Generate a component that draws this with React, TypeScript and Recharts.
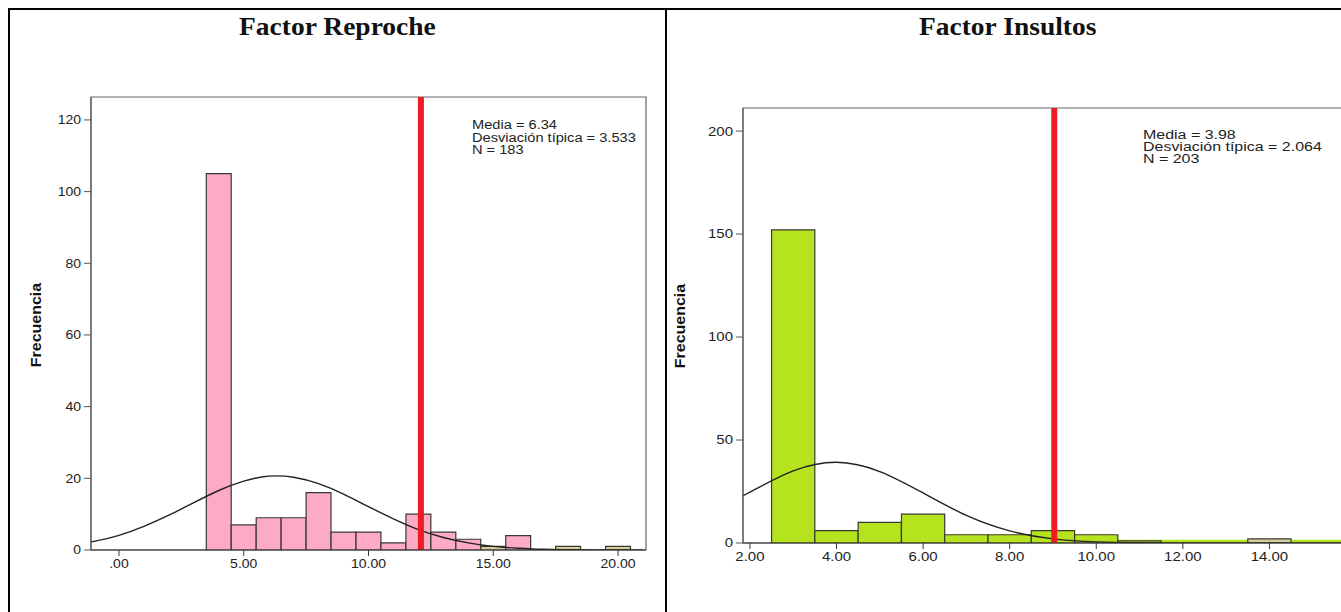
import React from 'react';
import { ComposedChart, Bar, Line, XAxis, YAxis, ReferenceLine, ReferenceArea, Cell } from 'recharts';

// Factor Reproche: bin centres, counts per bin, fitted normal curve
const reprocheX = [-2, -1, 0, 1, 2, 3, 4, 5, 6, 7, 8, 9, 10, 11, 12, 13, 14, 15, 16, 17, 18, 19, 20, 21];
const reprocheCounts = [null, null, null, null, null, null, 105, 7, 9, 9, 16, 5, 5, 2, 10, 5, 3, 1, 4, null, 1, null, 1, null];
const reprocheCurve = [1.3, 2.4, 4.1, 6.6, 9.7, 13.2, 16.6, 19.2, 20.6, 20.3, 18.5, 15.6, 12.1, 8.7, 5.7, 3.5, 2.0, 1.0, 0.5, 0.2, 0.1, 0.03, 0.01, 0];
const reprocheTanBins = [15, 18, 20];
const reprocheXTicks = [0, 5, 10, 15, 20];
const reprocheYTicks = [0, 20, 40, 60, 80, 100, 120];
const reprocheStats = ['Media = 6.34', 'Desviación típica = 3.533', 'N = 183'];
const reprocheCut = 12.1;

// Factor Insultos
const insultosX = [1, 2, 3, 4, 5, 6, 7, 8, 9, 10, 11, 12, 13, 14, 15, 16, 17];
const insultosCounts = [null, null, 152, 6, 10, 14, 4, 4, 6, 4, 1, null, null, 2, null, null, null];
const insultosCurve = [13.8, 24.7, 35.0, 39.2, 34.7, 24.3, 13.4, 5.9, 2.0, 0.56, 0.12, 0.02, 0, 0, 0, 0, 0];
const insultosTanBins = [14];
const insultosXTicks = [2, 4, 6, 8, 10, 12, 14];
const insultosYTicks = [0, 50, 100, 150, 200];
const insultosStats = ['Media = 3.98', 'Desviación típica = 2.064', 'N = 203'];
const insultosCut = 9.03;

const PINK = '#fcaac6';
const TAN = '#d6cf9c';
const GREEN = '#b5e41f';
const RED = '#ed1c24';
const SANS = '"Liberation Sans", Arial, sans-serif';

const StretchTick = (props: any) => {
  const { x, y, payload, textAnchor, fmt, vertical, sx } = props;
  return (
    <g transform={`translate(${x},${y})`}>
      <text
        transform={`scale(${sx},1)`}
        textAnchor={textAnchor}
        dy={vertical ? '0.355em' : '0.71em'}
        fontFamily={SANS}
        fontSize={12.5}
        fill="#222"
      >
        {fmt(payload.value)}
      </text>
    </g>
  );
};

type HistProps = {
  xs: number[];
  counts: (number | null)[];
  curve: number[];
  tanBins: number[];
  fill: string;
  xDomain: [number, number];
  yMax: number;
  xTicks: number[];
  yTicks: number[];
  cut: number;
  width: number;
  height: number;
  margin: { top: number; right: number; bottom: number; left: number };
  fmt: (v: number) => string;
  tickStretch: number;
  greenBase?: boolean;
};

const Histogram: React.FC<HistProps> = (p) => {
  const data = p.xs.map((x, i) => ({ x, count: p.counts[i], curve: p.curve[i] }));
  const yAxisWidth = 40;
  const plotWidth = p.width - p.margin.left - p.margin.right - yAxisWidth;
  const unit = plotWidth / (p.xDomain[1] - p.xDomain[0]);

  return (
    <ComposedChart width={p.width} height={p.height} data={data} margin={p.margin} barGap={0} barCategoryGap={0}>
      <XAxis
        dataKey="x"
        type="number"
        domain={p.xDomain}
        allowDataOverflow
        ticks={p.xTicks}
        stroke="#333"
        tickSize={6}
        tickMargin={3}
        height={30}
        tick={(t: any) => <StretchTick {...t} fmt={p.fmt} sx={p.tickStretch} />}
      />
      <YAxis
        type="number"
        domain={[0, p.yMax]}
        allowDataOverflow
        ticks={p.yTicks}
        width={yAxisWidth}
        stroke="#555"
        tickSize={7}
        tickMargin={3}
        tick={(t: any) => <StretchTick {...t} fmt={(v: number) => String(v)} sx={p.tickStretch} vertical />}
      />
      <ReferenceArea x1={p.xDomain[0]} x2={p.xDomain[1]} y1={0} y2={p.yMax} fill="none" stroke="#666" strokeWidth={1.2} />
      <Bar dataKey="count" barSize={unit - 0.05} stroke="#3a3a30" strokeWidth={1.2} isAnimationActive={false}>
        {data.map((d) => (
          <Cell key={d.x} fill={p.tanBins.includes(d.x) ? TAN : p.fill} />
        ))}
      </Bar>
      {p.greenBase && (
        <ReferenceArea x1={2.5} x2={p.xDomain[1]} y1={0} y2={1.6} fill={GREEN} fillOpacity={1} stroke="none" ifOverflow="visible" />
      )}
      <Line dataKey="curve" type="natural" stroke="#222" strokeWidth={1.4} dot={false} isAnimationActive={false} />
      <ReferenceLine x={p.cut} stroke={RED} strokeWidth={6} />
    </ComposedChart>
  );
};

const titleStyle: React.CSSProperties = {
  position: 'absolute',
  top: 13,
  textAlign: 'center',
  fontFamily: '"Liberation Serif", "Times New Roman", serif',
  fontWeight: 'bold',
  fontSize: 25,
  color: '#111',
};

const statsStyle: React.CSSProperties = {
  position: 'absolute',
  fontFamily: SANS,
  color: '#222',
  whiteSpace: 'nowrap',
  transformOrigin: 'left top',
};

const yLabelStyle: React.CSSProperties = {
  position: 'absolute',
  fontFamily: SANS,
  fontWeight: 'bold',
  fontSize: 14,
  color: '#111',
  transform: 'translate(-50%, -50%) rotate(-90deg) scaleX(1.14)',
  whiteSpace: 'nowrap',
};

const App: React.FC = () => {
  return (
    <div style={{ position: 'fixed', left: 0, top: 0, width: 1341, height: 612, overflow: 'hidden', background: '#fff' }}>
      <div style={{ position: 'absolute', left: 0, top: 0 }}>
        <Histogram
          xs={reprocheX}
          counts={reprocheCounts}
          curve={reprocheCurve}
          tanBins={reprocheTanBins}
          fill={PINK}
          xDomain={[-1.12, 21.12]}
          yMax={126.4}
          xTicks={reprocheXTicks}
          yTicks={reprocheYTicks}
          cut={reprocheCut}
          width={666}
          height={612}
          margin={{ top: 97, right: 20, bottom: 32, left: 51 }}
          fmt={(v) => (v === 0 ? '.00' : v.toFixed(2))}
          tickStretch={1.12}
        />
      </div>
      <div style={{ position: 'absolute', left: 666, top: 0 }}>
        <Histogram
          xs={insultosX}
          counts={insultosCounts}
          curve={insultosCurve}
          tanBins={insultosTanBins}
          fill={GREEN}
          xDomain={[1.84, 16.3]}
          yMax={211.2}
          xTicks={insultosXTicks}
          yTicks={insultosYTicks}
          cut={insultosCut}
          width={723}
          height={612}
          margin={{ top: 108, right: 20, bottom: 39, left: 37 }}
          fmt={(v) => v.toFixed(2)}
          tickStretch={1.2}
          greenBase
        />
      </div>

      <div style={{ ...titleStyle, left: 8, width: 658 }}>
        <span style={{ display: 'inline-block', transform: 'scaleX(1.1)' }}>Factor Reproche</span>
      </div>
      <div style={{ ...titleStyle, left: 666, width: 684 }}>
        <span style={{ display: 'inline-block', transform: 'scaleX(1.1)' }}>Factor Insultos</span>
      </div>

      <div style={{ ...statsStyle, left: 472, top: 119, fontSize: 12.5, lineHeight: '12.5px', transform: 'scaleX(1.17)' }}>
        {reprocheStats.map((s) => (
          <div key={s}>{s}</div>
        ))}
      </div>
      <div style={{ ...statsStyle, left: 1143, top: 129, fontSize: 12, lineHeight: '12px', transform: 'scaleX(1.33)' }}>
        {insultosStats.map((s) => (
          <div key={s}>{s}</div>
        ))}
      </div>

      <div style={{ ...yLabelStyle, left: 36, top: 325 }}>Frecuencia</div>
      <div style={{ ...yLabelStyle, left: 680, top: 326 }}>Frecuencia</div>

      {/* table borders */}
      <div style={{ position: 'absolute', left: 8, top: 8, width: 1333, height: 2, background: '#000' }} />
      <div style={{ position: 'absolute', left: 8, top: 8, width: 2, height: 604, background: '#000' }} />
      <div style={{ position: 'absolute', left: 665, top: 8, width: 2, height: 604, background: '#000' }} />
    </div>
  );
};

export default App;
